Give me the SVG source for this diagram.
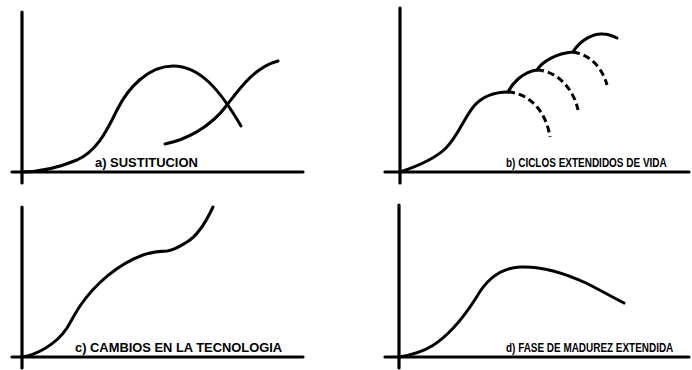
<svg xmlns="http://www.w3.org/2000/svg" width="692" height="370" viewBox="0 0 692 370">
<style>
.ax{stroke:#000;stroke-width:3.2;fill:none;stroke-linecap:round}
.cv{stroke:#000;stroke-width:3;fill:none;stroke-linecap:round;stroke-linejoin:round}
.ds{stroke-dasharray:7 4;stroke-linecap:butt}
.lb{font-family:"Liberation Sans",Arial,sans-serif;font-weight:bold;font-size:13.5px;fill:#000}
</style>
<rect width="692" height="370" fill="#fff"/>
<g id="panel-a">
<line class="ax" x1="22" y1="12" x2="22" y2="183"/>
<line class="ax" x1="12" y1="172" x2="303" y2="172"/>
<path class="cv" d="M22,172 C40,172 60,167 77,160 C95,152 105,135 117,110 C128,88 148,66 173,66 C200,66 220,90 241,126"/>
<path class="cv" d="M165,144 C185,140 210,128 227,105 C240,88 255,67 278,61"/>
<text class="lb" transform="translate(95,167) scale(0.96,1)">a) SUSTITUCION</text>
</g>
<g id="panel-b">
<line class="ax" x1="400" y1="8" x2="400" y2="183"/>
<line class="ax" x1="385" y1="172" x2="689" y2="172"/>
<path class="cv" d="M400,172 C418,166 436,158 446,148 C458,136 464,118 474,106 C482,97 494,92 508,92"/>
<path class="cv ds" d="M508,92 C528,93 546,110 550,137"/>
<path class="cv" d="M508,92 C512,84 522,72 537,70"/>
<path class="cv ds" d="M537,70 C558,71 574,90 578,110"/>
<path class="cv" d="M537,70 C542,62 556,53 573,52"/>
<path class="cv ds" d="M573,52 C592,55 603,70 607,85"/>
<path class="cv" d="M573,52 C580,40 594,33 603,34 C608,34 613,36 617,38"/>
<text class="lb" transform="translate(506,167) scale(0.74,1)">b) CICLOS EXTENDIDOS DE VIDA</text>
</g>
<g id="panel-c">
<line class="ax" x1="22" y1="207" x2="22" y2="368"/>
<line class="ax" x1="12" y1="357" x2="303" y2="357"/>
<path class="cv" d="M22,357 C35,355 55,346 67,328 C72,320 74,315 80,306 C95,284 118,264 143,255 C155,251 162,251 167,251 C175,250 180,246 187,242 C197,236 206,222 213,207"/>
<text class="lb" transform="translate(75,352) scale(0.956,1)">c) CAMBIOS EN LA TECNOLOGIA</text>
</g>
<g id="panel-d">
<line class="ax" x1="399" y1="205" x2="399" y2="368"/>
<line class="ax" x1="385" y1="357" x2="689" y2="357"/>
<path class="cv" d="M399,357 C412,355 422,352 432,346 C448,336 462,320 476,298 C486,280 500,268 520,267 C540,266 560,271 586,283 C600,290 612,297 624,303"/>
<text class="lb" transform="translate(506,352) scale(0.737,1)">d) FASE DE MADUREZ EXTENDIDA</text>
</g>
</svg>
